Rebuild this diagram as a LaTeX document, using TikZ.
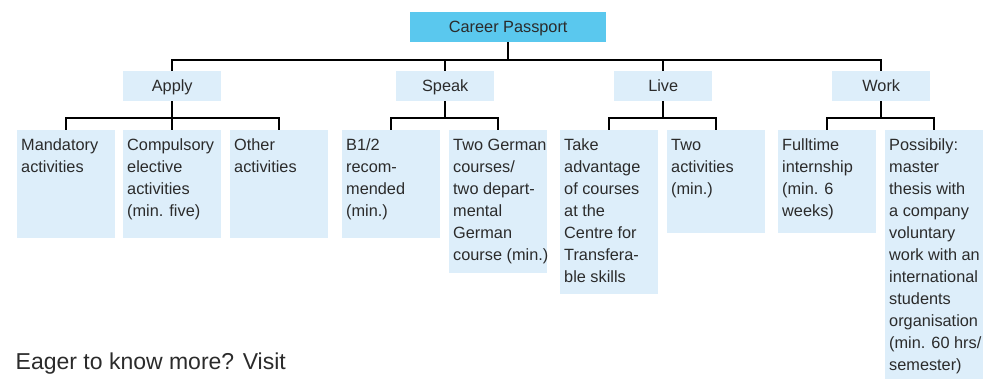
\documentclass[tikz,border=0pt]{standalone}
\usepackage{fontspec}
\setmainfont{Liberation Sans}
\usetikzlibrary{calc}
\definecolor{lightbox}{HTML}{DDEEFA}
\definecolor{topbox}{HTML}{5AC8EE}
\definecolor{txt}{HTML}{2B2B2B}
\tikzset{
  x=1pt, y=-1pt,
  conn/.style={draw=black, line width=2pt},
  topnode/.style={fill=topbox, minimum width=196pt, minimum height=30pt, inner sep=0pt, anchor=north west,
    text=txt, font=\fontsize{16.3}{22}\selectfont, text height=13pt, text depth=3pt},
  midnode/.style={fill=lightbox, minimum width=98pt, minimum height=30pt, inner sep=0pt, anchor=north west,
    text=txt, font=\fontsize{16.3}{22}\selectfont, text height=13pt, text depth=3pt},
  leafbox/.style={fill=lightbox, minimum width=98pt, inner sep=0pt, anchor=north west},
  leaftext/.style={anchor=base west, inner sep=0pt, text=txt, font=\fontsize{16.3}{22}\selectfont},
}
\newcommand{\leaflines}[1]{\parbox[t]{100pt}{\raggedright #1}}
\begin{document}
\begin{tikzpicture}
\useasboundingbox (0,0) rectangle (984,379);
\clip (0,0) rectangle (984,379);
% top
\node[topnode] (cp) at (410,12) {Career Passport};
% level 2
\node[midnode] (apply) at (123,71) {Apply};
\node[midnode] (speak) at (396,71) {Speak};
\node[midnode] (live) at (614,71) {Live};
\node[midnode] (work) at (832,71) {Work};
% level 3 boxes
\node[leafbox, minimum height=108pt] (m) at (17,130) {};
\node[leafbox, minimum height=108pt] (c) at (123,130) {};
\node[leafbox, minimum height=108pt] (o) at (230,130) {};
\node[leafbox, minimum height=108pt] (b) at (342,130) {};
\node[leafbox, minimum height=143pt] (g) at (449,130) {};
\node[leafbox, minimum height=164pt] (t) at (560,130) {};
\node[leafbox, minimum height=103pt] (a) at (667,130) {};
\node[leafbox, minimum height=103pt] (f) at (778,130) {};
\node[leafbox, minimum height=260pt] (p) at (885,130) {};
% level 3 texts
\node[leaftext] (mt) at ($(m.north west)+(4,20.7)$) {\leaflines{Mandatory\\activities}};
\node[leaftext] (ct) at ($(c.north west)+(4,20.7)$) {\leaflines{Compulsory\\elective\\activities\\(min. five)}};
\node[leaftext] (ot) at ($(o.north west)+(4,20.7)$) {\leaflines{Other\\activities}};
\node[leaftext] (bt) at ($(b.north west)+(4,20.7)$) {\leaflines{B1/2\\recom-\\mended\\(min.)}};
\node[leaftext] (gt) at ($(g.north west)+(4,20.7)$) {\leaflines{Two German\\courses/\\two depart-\\mental\\German\\course (min.)}};
\node[leaftext] (tt) at ($(t.north west)+(4,20.7)$) {\leaflines{Take\\advantage\\of courses\\at the\\Centre for\\Transfera-\\ble skills}};
\node[leaftext] (at) at ($(a.north west)+(4,20.7)$) {\leaflines{Two\\activities\\(min.)}};
\node[leaftext] (ft) at ($(f.north west)+(4,20.7)$) {\leaflines{Fulltime\\internship\\(min. 6\\weeks)}};
\node[leaftext] (pt) at ($(p.north west)+(4,20.7)$) {\leaflines{Possibily:\\master\\thesis with\\a company\\voluntary\\work with an\\international\\students\\organisation\\(min. 60 hrs/\\semester)}};
% footer
\node[anchor=base west, inner sep=0pt, text=txt, font=\fontsize{23}{28}\selectfont] (eager) at (15.5,369) {Eager to know more? Visit};
% connectors top
\coordinate (bus0) at ($(cp.south)+(0,18)$);
\draw[conn] (cp.south) -- (bus0);
\draw[conn] (apply.north) |- (bus0);
\draw[conn] (work.north) |- (bus0);
\draw[conn] (speak.north) -- (speak.north |- bus0);
\draw[conn] (live.north) -- (live.north |- bus0);
% level 3 connectors
\coordinate (busA) at ($(apply.south)+(0,17)$);
\draw[conn] (apply.south) -- (busA);
\draw[conn] (m.north) |- (busA);
\draw[conn] (o.north) |- (busA);
\draw[conn] (c.north) -- (busA);
\coordinate (busS) at ($(speak.south)+(0,17)$);
\draw[conn] (speak.south) -- (busS);
\draw[conn] (b.north) |- (busS);
\draw[conn] (g.north) |- (busS);
\coordinate (busL) at ($(live.south)+(0,17)$);
\draw[conn] (live.south) -- (busL);
\draw[conn] (t.north) |- (busL);
\draw[conn] (a.north) |- (busL);
\coordinate (busW) at ($(work.south)+(0,17)$);
\draw[conn] (work.south) -- (busW);
\draw[conn] (f.north) |- (busW);
\draw[conn] (p.north) |- (busW);
\end{tikzpicture}
\end{document}
